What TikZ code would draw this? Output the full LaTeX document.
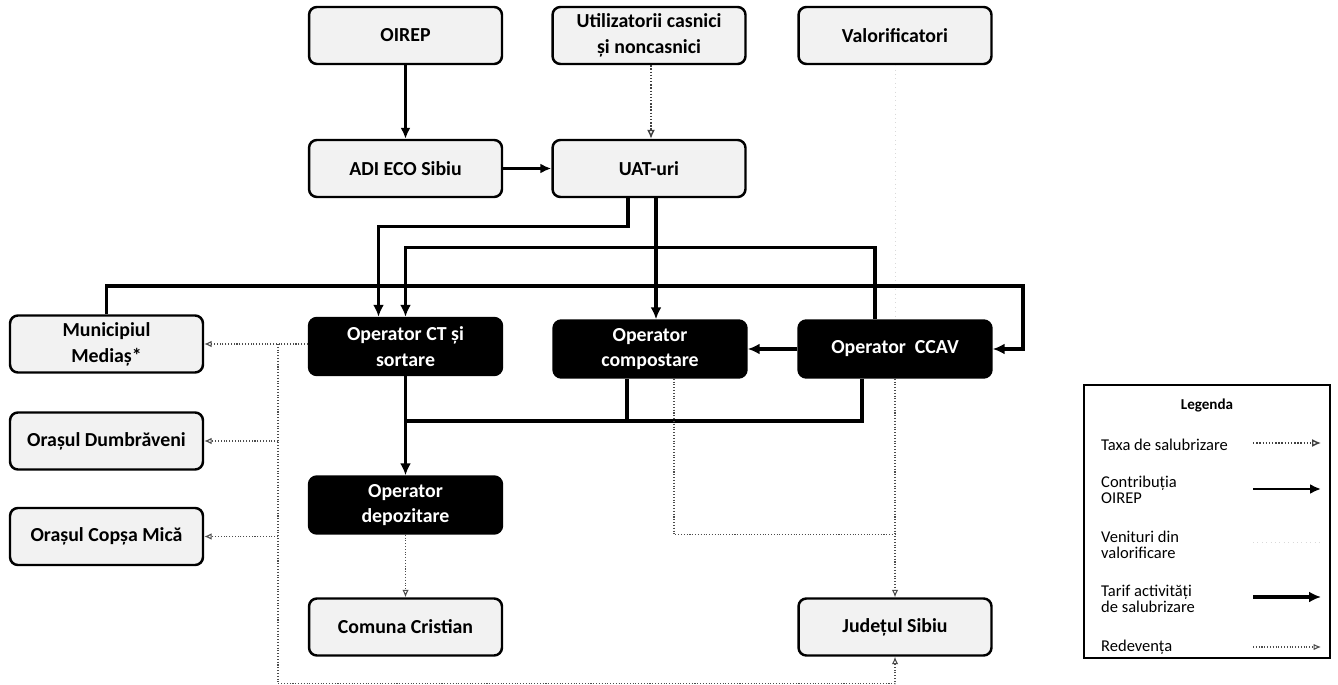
\documentclass[tikz,border=0pt]{standalone}
\usepackage{fontspec}
\setmainfont{Carlito}
\usetikzlibrary{positioning,arrows.meta,calc}

\begin{document}
\begin{tikzpicture}[x=0.02cm, y=-0.02cm,
  box/.style={draw, line width=1.4pt, rounded corners=4.5pt, fill=gray!10,
    minimum width=3.86cm, minimum height=1.14cm, inner sep=0pt, align=center,
    font=\fontsize{11.3}{14.7}\selectfont\bfseries},
  opbox/.style={box, fill=black, text=white},
  tarif/.style={line width=1.9pt, -{Latex[length=2.4mm,width=2.2mm]}},
  tarifline/.style={line width=1.9pt},
  contrib/.style={line width=1.3pt, -{Latex[length=2.2mm,width=2mm]}},
  taxa/.style={densely dotted, gray!50!black, line width=0.8pt,
    -{Latex[open,length=1.8mm,width=1.6mm]}},
  redev/.style={densely dotted, gray!60!black, line width=0.6pt},
  redarr/.style={redev, -{Latex[open,length=1.5mm,width=1.3mm]}},
  venit/.style={dotted, gray!30, line width=0.5pt},
  legtext/.style={font=\fontsize{9.4}{9.4}\selectfont, align=left, anchor=west}]
\useasboundingbox (0,0) rectangle (1338,685);

\def\xa{106.5};
\def\xb{405.5};
\def\xc{649};
\def\xd{895};

\def\ya{35.5};
\def\yb{168.5};
\def\yc{346.5};

\node[box](oirep) at (\xb,\ya) {OIREP};
\node[box](util) at (\xc,\ya) {Utilizatorii casnici\\și noncasnici};
\node[box](valor) at (\xd,\ya) {Valorificatori};
\node[box](adi) at (\xb,\yb) {ADI ECO Sibiu};
\node[box](uat) at (\xc,\yb) {UAT-uri};

\node[box](medias) at (\xa,344) {Municipiul\\Mediaș*};
\node[box](dumb) at (\xa,441) {Orașul Dumbrăveni};
\node[box](copsa) at (\xa,536.5) {Orașul Copșa Mică};

\node[opbox](ct) at (\xb,\yc) {Operator CT și\\sortare};
\node[opbox](comp) at (650,349) {Operator\\compostare};
\node[opbox](ccav) at (\xd,349) {Operator\ \ CCAV};
\node[opbox](depoz) at (\xb,505) {Operator\\depozitare};
\node[box](cristian) at (\xb,627) {Comuna Cristian};
\node[box](judet) at (\xd,627) {Județul Sibiu};

\draw[contrib] (oirep) -- (adi);
\draw[contrib] (adi) -- (uat);
\draw[taxa] ($(util.south)+(2,0)$) -- ($(uat.north)+(2,0)$);
\draw[venit] (valor) -- (ccav);

\draw[tarif] ($(uat.south)+(-21,0)$) |- ($(ct.north)+(-27,-90)$) -- ($(ct.north)+(-27,0)$);
\draw[tarif] ($(uat.south)+(7,0)$) -- ($(comp.north)+(6,0)$);
\draw[tarif] ($(ccav.north)+(-20,0)$) |- ($(ct.north)+(0,-69)$) -- (ct.north);
\draw[tarif] (medias.north) |- (1023,286) |- (ccav.east);
\draw[tarif] (ccav) -- (comp);

\coordinate (join) at (\xb,421);
\draw[tarif] (ct) -- (depoz);
\draw[tarifline] ($(comp.south)+(-23,0)$) |- (join);
\draw[tarifline] ($(ccav.south)+(-33,0)$) |- (join);

\coordinate (lt) at (278,344);
\draw[redarr] (ct.west |- medias.east) -- (medias.east);
\draw[redarr] (lt |- dumb.east) -- (dumb.east);
\draw[redarr] (lt |- copsa.east) -- (copsa.east);
\draw[redarr] (lt) |- ($(judet.south)+(0,27)$) -- (judet.south);
\draw[redarr] (depoz) -- (cristian);
\draw[redarr] (ccav) -- (judet);
\draw[redev] ($(comp.south)+(24,0)$) |- ($(ccav.south)+(0,156)$);

\node[draw, line width=0.7pt, minimum width=4.92cm, minimum height=5.46cm](legend) at (1207,521.5) {};
\node[font=\fontsize{8.6}{9}\selectfont\bfseries](legtitle) at (1207,405) {Legenda};
\node[legtext](taxatext) at (1095,445) {Taxa de salubrizare};
\node[legtext](contribtext) at (1095,490) {Contribuția\\OIREP};
\node[legtext](venittext) at (1095,545) {Venituri din\\valorificare};
\node[legtext](tariftext) at (1095,599) {Tarif activități\\de salubrizare};
\node[legtext](redevtext) at (1095,647) {Redevența};
\foreach \y/\s in {443/taxa,489/contrib,542/venit,597/tarif,647/redarr}
  \draw[\s] (1253,\y) -- (1321,\y);
\end{tikzpicture}
\end{document}
